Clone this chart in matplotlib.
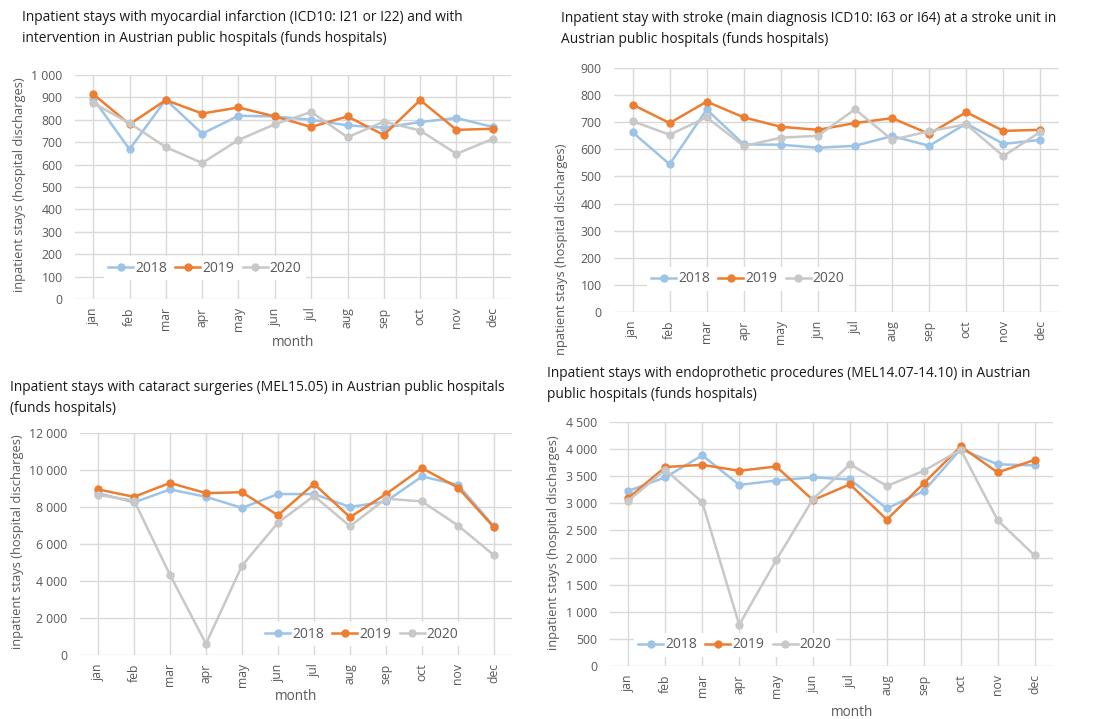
import matplotlib.pyplot as plt
from matplotlib.ticker import FuncFormatter

plt.rcParams['font.family'] = ['Open Sans', 'DejaVu Sans']

months = ['jan', 'feb', 'mar', 'apr', 'may', 'jun', 'jul', 'aug', 'sep', 'oct', 'nov', 'dec']
years = ['2018', '2019', '2020']

# myocardial infarction
mi_2018 = [895, 668, 890, 738, 818, 815, 800, 775, 765, 790, 808, 768]
mi_2019 = [915, 780, 888, 828, 855, 815, 768, 815, 732, 888, 755, 760]
mi_2020 = [875, 785, 678, 607, 710, 780, 835, 722, 792, 752, 648, 715]

# stroke
st_2018 = [663, 545, 747, 618, 617, 606, 613, 649, 613, 695, 620, 635]
st_2019 = [765, 697, 776, 718, 683, 672, 697, 715, 657, 737, 668, 672]
st_2020 = [704, 654, 718, 612, 643, 650, 748, 635, 667, 692, 575, 665]

# cataract surgeries
ca_2018 = [8750, 8250, 8950, 8550, 7950, 8700, 8700, 8000, 8300, 9650, 9200, 6950]
ca_2019 = [8950, 8550, 9300, 8750, 8800, 7550, 9250, 7450, 8700, 10100, 9050, 6900]
ca_2020 = [8650, 8350, 4330, 610, 4830, 7150, 8600, 6960, 8450, 8300, 7000, 5390]

# endoprosthetic procedures
en_2018 = [3230, 3480, 3885, 3340, 3420, 3480, 3440, 2905, 3225, 4000, 3720, 3700]
en_2019 = [3100, 3670, 3710, 3600, 3680, 3060, 3350, 2700, 3370, 4050, 3570, 3800]
en_2020 = [3050, 3620, 3020, 760, 1950, 3080, 3720, 3320, 3600, 3990, 2690, 2040]

colors = ['#9DC3E6', '#ED7D31', '#C8C8C8']
txt = '#595959'
grid = '#D9D9D9'

W, H = 1111, 719
fig = plt.figure(figsize=(W / 100, H / 100), dpi=100)


def px_axes(l, t, r, b):
    return fig.add_axes([l / W, 1 - b / H, (r - l) / W, (b - t) / H])


def space_fmt(v, pos):
    return '{:,.0f}'.format(v).replace(',', ' ')


def panel(box, series, ymax, ystep, legend_xy):
    ax = px_axes(*box)
    x = range(len(months))
    lines = []
    for vals, c, lab in zip(series, colors, years):
        ln, = ax.plot(x, vals, color=c, lw=1.8, marker='o', ms=5, label=lab)
        lines.append(ln)
    ax.set_xlim(-0.5, 11.5)
    ax.set_ylim(0, ymax)
    ax.set_yticks(range(0, ymax + 1, ystep))
    ax.yaxis.set_major_formatter(FuncFormatter(space_fmt))
    ax.set_xticks(list(x))
    ax.set_xticklabels(months, rotation=90)
    ax.tick_params(length=0, colors=txt, labelsize=8.8)
    ax.tick_params(axis='y', pad=9)
    ax.tick_params(axis='x', pad=6)
    ax.grid(True, color=grid, lw=1)
    ax.set_axisbelow(True)
    for s in ax.spines.values():
        s.set_visible(False)
    leg = fig.legend(handles=lines, loc='center left',
                     bbox_to_anchor=(legend_xy[0] / W, 1 - legend_xy[1] / H),
                     ncol=3, frameon=True, fontsize=10, handlelength=1.8,
                     handletextpad=0.15, columnspacing=0.6, borderpad=0.3,
                     fancybox=False)
    leg.get_frame().set_edgecolor('none')
    leg.get_frame().set_facecolor('white')
    leg.get_frame().set_alpha(1)
    for t in leg.get_texts():
        t.set_color(txt)
    return ax


panel((75, 75, 511, 299), [mi_2018, mi_2019, mi_2020], 1000, 100, (97, 268))
panel((614, 68, 1059, 312), [st_2018, st_2019, st_2020], 900, 100, (640, 279))
panel((80, 433, 512, 655), [ca_2018, ca_2019, ca_2020], 12000, 2000, (254, 634))
panel((610, 422, 1053, 666), [en_2018, en_2019, en_2020], 4500, 500, (627, 645))

tkw = dict(fontsize=9.9, color='#1a1a1a', va='top', ha='left', linespacing=1.55)
fig.text(22 / W, 1 - 10 / H, 'Inpatient stays with myocardial infarction (ICD10: I21 or I22) and with\n'
         'intervention in Austrian public hospitals (funds hospitals)', **tkw)
fig.text(561 / W, 1 - 11 / H, 'Inpatient stay with stroke (main diagnosis ICD10: I63 or I64) at a stroke unit in\n'
         'Austrian public hospitals (funds hospitals)', **tkw)
fig.text(10 / W, 1 - 380 / H, 'Inpatient stays with cataract surgeries (MEL15.05) in Austrian public hospitals\n'
         '(funds hospitals)', **tkw)
fig.text(547 / W, 1 - 366 / H, 'Inpatient stays with endoprothetic procedures (MEL14.07-14.10) in Austrian\n'
         'public hospitals (funds hospitals)', **tkw)

ykw = dict(fontsize=9.3, color=txt, rotation=90, ha='center')
fig.text(20 / W, 1 - 185 / H, 'inpatient stays (hospital discharges)', va='center', **ykw)
fig.text(18 / W, 1 - 542 / H, 'inpatient stays (hospital discharges)', va='center', **ykw)
fig.text(554 / W, 1 - 543 / H, 'inpatient stays (hospital discharges)', va='center', **ykw)
fig.text(561 / W, 1 - 355 / H, 'npatient stays (hospital discharges)', va='bottom', **ykw)

mkw = dict(fontsize=9.8, color=txt, ha='center', va='center')
fig.text(293 / W, 1 - 342 / H, 'month', **mkw)
fig.text(296 / W, 1 - 697 / H, 'month', **mkw)
fig.text(852 / W, 1 - 712 / H, 'month', **mkw)

fig.savefig('out.png', dpi=100, facecolor='white')
